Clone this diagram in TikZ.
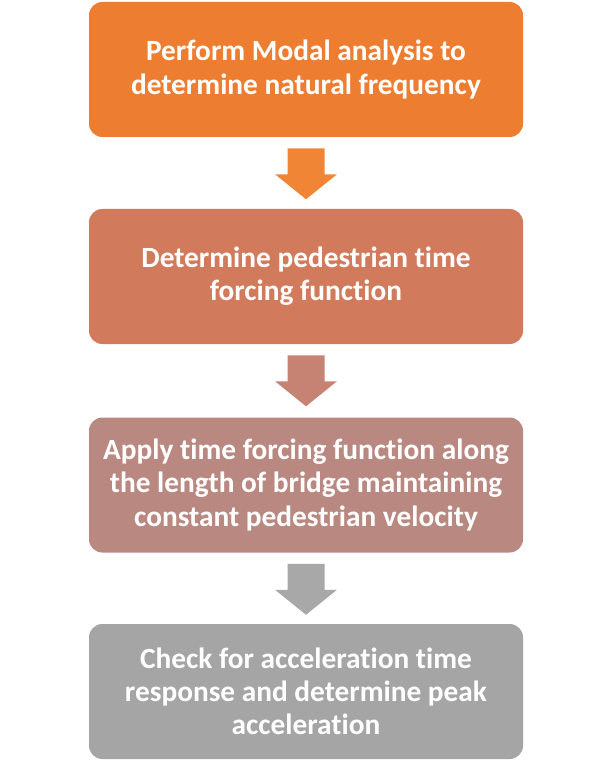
\documentclass[tikz,border=0pt]{standalone}
\usepackage{fontspec}
\setmainfont{Carlito}[RawFeature={-liga}]
\usetikzlibrary{calc}
\definecolor{boxA}{HTML}{ED7D31}
\definecolor{boxB}{HTML}{D17A5C}
\definecolor{boxC}{HTML}{B98880}
\definecolor{boxD}{HTML}{A5A5A5}
\definecolor{arrA}{HTML}{EF8535}
\definecolor{arrB}{HTML}{C68374}
\definecolor{arrC}{HTML}{A8A8A8}
\newcommand\flowarrow[2]{%
  \fill[#2] ($(#1.south)+(-18.5,11)$) -- ($(#1.south)+(18.5,11)$) -- ($(#1.south)+(18.5,37)$) -- ($(#1.south)+(31,37)$) -- ($(#1.south)+(0,62)$) -- ($(#1.south)+(-31,37)$) -- ($(#1.south)+(-18.5,37)$) -- cycle;}
\begin{document}
\begin{tikzpicture}[x=0.75pt,y=-0.75pt,
  stepbox/.style={rounded corners=10pt, minimum width=325.5pt, minimum height=101.25pt,
    text=white, font=\bfseries\fontsize{22}{24.8}\selectfont, align=center, inner sep=0pt}]
\useasboundingbox (0,0) rectangle (612,762);
\node[stepbox, fill=boxA] (b1) at (306,69.5) {Perform Modal analysis to\\determine natural frequency};
\node[stepbox, fill=boxB] (b2) at (306,276.5) {Determine pedestrian time\\forcing function};
\node[stepbox, fill=boxC] (b3) at (306,485) {Apply time forcing function along\\the length of bridge maintaining\\constant pedestrian velocity};
\node[stepbox, fill=boxD] (b4) at (306,691.5) {Check for acceleration time\\response and determine peak\\acceleration};
\flowarrow{b1}{arrA}
\flowarrow{b2}{arrB}
\flowarrow{b3}{arrC}
\end{tikzpicture}
\end{document}
